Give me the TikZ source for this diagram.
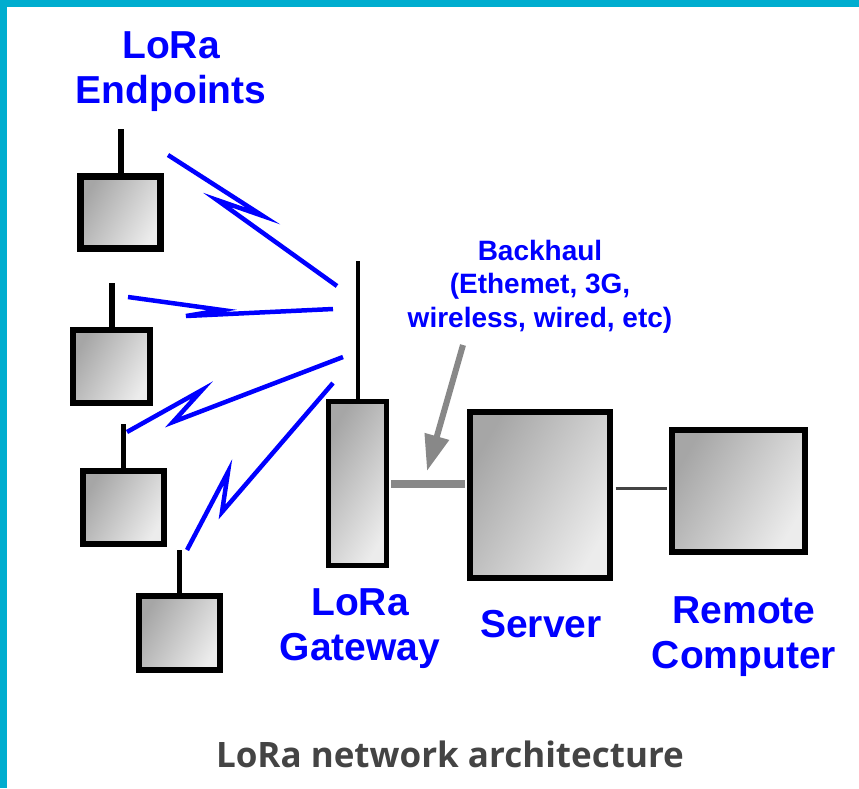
\documentclass[tikz,border=0pt]{standalone}
\usepackage{fontspec}
\setmainfont{Liberation Sans}
\newfontfamily\legendefont{Open Sans}
\usetikzlibrary{arrows.meta}
\definecolor{cadre}{RGB}{0,173,207}
\definecolor{legende}{RGB}{68,68,68}
\definecolor{liaison}{RGB}{136,136,136}
\definecolor{fil}{RGB}{68,68,68}

\begin{document}
\begin{tikzpicture}[x=1pt,y=-1pt]
\tikzstyle{boitier} = [draw=black, inner sep=0pt, top color=gray!70, bottom color=gray!15, shading angle=60] %fond degrade
\tikzstyle{antenne} = [line width=6pt]
\tikzstyle{eclair} = [blue, line width=4.5pt]
\tikzstyle{etiquette} = [text=blue, font=\fontsize{39}{45}\selectfont\bfseries, align=center, inner sep=0pt]

%cadre
\useasboundingbox (0,0) rectangle (859,788);
\fill[white] (0,0) rectangle (859,788);
\fill[cadre] (0,0) rectangle (859,7);
\fill[cadre] (0,0) rectangle (7,788);

%les boitiers
\node[boitier, line width=7pt, minimum width=80pt, minimum height=72pt] (ep1) at (120.5,212.5) {};
\node[boitier, line width=6pt, minimum width=77pt, minimum height=73pt] (ep2) at (111.5,366.5) {};
\node[boitier, line width=6pt, minimum width=81pt, minimum height=73pt] (ep3) at (123.5,507.5) {};
\node[boitier, line width=6pt, minimum width=81pt, minimum height=74pt] (ep4) at (179.5,633) {};
\node[boitier, line width=5pt, minimum width=58pt, minimum height=164pt] (gw) at (357.5,483.5) {};
\node[boitier, line width=6pt, minimum width=140pt, minimum height=166pt] (srv) at (540,495) {};
\node[boitier, line width=6pt, minimum width=133pt, minimum height=122pt] (rc) at (738.5,491) {};

%antennes
\draw[antenne] (ep1.north) -- ++(0,-44);
\draw[antenne] (ep2.north) -- ++(0,-44);
\draw[antenne, line width=5pt] (ep3.north) -- ++(0,-44);
\draw[antenne, line width=5pt] (ep4.north) -- ++(0,-43);
\draw[antenne, line width=4pt] (gw.north) -- ++(0,-138.5);

%liaisons radio
\draw[eclair] (168,155) -- (263,216) -- (217,200) -- (337,286);
\draw[eclair] (128,297) -- (222,310) -- (186,316) -- (333,309);
\draw[eclair] (127,432) -- (202,390) -- (173,422) -- (343,357);
\draw[eclair] (333,383) -- (222,512) -- (228,472) -- (187,550);

%backhaul
\draw[liaison, line width=8pt, shorten <=2pt, shorten >=2.5pt] (gw.east) -- (gw.east -| srv.west);
\draw[fil, line width=3pt, shorten <=2.5pt, shorten >=2.5pt] ([yshift=3pt]srv.east |- rc.west) -- ([yshift=3pt]rc.west);
\coordinate (bhqueue) at (463,345);
\coordinate (bhpointe) at (427,471);
\draw[liaison, line width=6pt, -{Triangle[length=36pt,width=24pt]}] (bhqueue) -- (bhpointe);

%textes (base = derniere ligne)
\node[etiquette, anchor=base] (tep) at (171,103) {LoRa\\Endpoints};
\node[etiquette, anchor=base] (tgw) at (360,660) {LoRa\\Gateway};
\node[etiquette, anchor=base] (tsrv) at (541,637) {Server};
\node[etiquette, anchor=base] (trc) at (744,668) {Remote\\Computer};
\node[etiquette, font=\fontsize{28}{33.5}\selectfont\bfseries, anchor=base] (tbh) at (540,327) {Backhaul\\(Ethemet, 3G,\\wireless, wired, etc)};
\node[font=\legendefont\bfseries\fontsize{35}{40}\selectfont, text=legende, anchor=base] (titre) at (450,767) {LoRa network architecture};
\end{tikzpicture}
\end{document}
